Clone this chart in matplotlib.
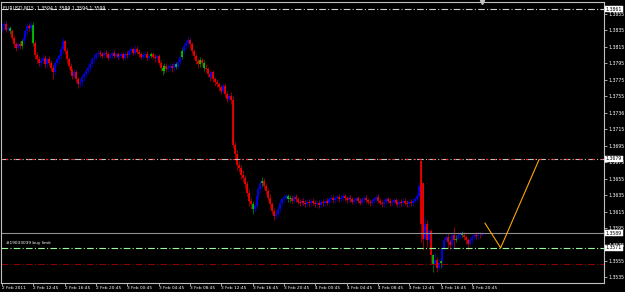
import matplotlib
matplotlib.use("Agg")
import matplotlib.pyplot as plt
import numpy as np

# ---- data (prices in pips above 1.3500) ----
opens = [336,340,343,336,338,334,326,318,314,318,
         316,322,326,334,340, 338,342,320,305,300, 296,298,302,294,300, 296,290,284,296,300,
         304,312,322,310,300, 292,286,280,284,276, 270,272,278,282,286, 290,294,300,302,306,
         308,306,304,308,306,302,305,308,304,306, 303,304,306,302,307, 305,310,312,308,313,
         309,306,303,305,307, 302,304,306,303,301, 304,296,290,286,292, 288,290,292,289,294,
         291,297,303,310,316, 320,324,318,310,304, 298,294,299,296,290, 288,282,279,284,276,
         272,270,266,262,268, 258,252,256,250,196, 185,172,168,160,156, 148,138,128,124,118,
         122,134,142,150,152, 146,140,132,124,116, 110,112,118,126,130, 132,134,130,132,128,
         133,130,127,125,128,126,124,127,125,128, 126,124,126,123,127,125,128,126,130,132,
         129,131,133,130,132,134,131,129,132,130, 127,129,131,128,126,130,132,129,127,125,
         128,130,133,128,126,124,127,130,128,125, 127,129,126,124,127,125,128,126,124,127,
         125,128,130,134,
         176,150,82,100,80,92,62,50,56,46, 52,55,70,80,84,78,74,86,80,82, 86,88,87,84,80,76,80,84,86,85,
         87,86]
closes = [340,343,336,338,334,326,318,314,318,316,
          322,326,334,340,338, 342,320,305,300,296, 298,302,294,300,296, 290,284,296,300,304,
          312,322,310,300,292, 286,280,284,276,270, 272,278,282,286,290, 294,300,302,306,308,
          306,304,308,306,302,305,308,304,306,303, 304,306,302,307,305, 310,312,308,313,309,
          306,303,305,307,302, 304,306,303,301,304, 296,290,286,292,288, 290,292,289,294,291,
          297,303,310,316,320, 324,318,310,304,298, 294,299,296,290,288, 282,279,284,276,272,
          270,266,262,268,258, 252,256,250,196,185, 172,168,160,156,148, 138,128,124,118,122,
          134,142,150,152,146, 140,132,124,116,110, 112,118,126,130,132, 134,130,132,128,133,
          130,127,125,128,126,124,127,125,128,126, 124,126,123,127,125,128,126,130,132,129,
          131,133,130,132,134,131,129,132,130,127, 129,131,128,126,130,132,129,127,125,128,
          130,133,128,126,124,127,130,128,125,127, 129,126,124,127,125,128,126,124,127,125,
          128,130,134,146,
          100,82,100,80,92,62,50,56,46,52, 55,70,80,84,78,74,86,80,82,86, 88,87,84,80,76,80,84,86,85,87,
          86,88]
highs = [344,347,346,341,341,337,329,321,321,322,
         325,330,337,344,344, 346,345,324,309,304, 302,306,305,303,304, 299,293,298,303,307,
         316,327,324,314,303, 295,290,288,287,279, 276,281,285,289,293, 297,303,306,309,311,
         311,309,311,311,309,308,311,311,309,309, 307,309,309,310,310, 313,316,315,317,316,
         312,309,308,310,310, 307,309,309,306,307, 307,299,293,295,295, 294,296,295,298,297,
         300,307,314,320,324, 328,326,321,313,307, 301,303,302,299,294, 291,286,287,287,279,
         276,273,269,271,271, 262,259,260,256,200, 190,176,172,165,160, 152,142,132,128,126,
         137,146,154,157,156, 150,144,136,127,119, 116,122,130,133,136, 137,137,135,135,136,
         136,133,130,131,131,129,130,130,131,131, 129,129,129,130,130,131,131,133,136,135,
         134,137,136,135,138,137,134,135,135,133, 132,134,134,131,133,135,135,132,130,131,
         133,137,136,131,129,130,133,133,131,130, 132,132,129,130,130,131,131,129,130,130,
         131,133,138,150,
         178,150,108,105,94,94,64,66,60,58, 60,72,84,88,89,82,90,96,86,89, 92,91,90,87,83,83,87,89,90,91,
         90,90]
lows = [333,337,333,333,331,323,314,310,311,312,
        312,318,323,330,334, 334,316,300,296,292, 292,294,290,290,292, 286,276,281,292,296,
        300,308,306,296,288, 282,276,277,272,265, 266,268,274,279,282, 286,291,296,299,303,
        303,301,302,303,299,300,302,301,301,300, 300,301,299,299,302, 302,306,305,305,306,
        303,300,300,302,299, 299,301,300,297,298, 293,286,281,283,284, 285,287,285,286,288,
        288,294,300,306,312, 316,314,306,300,294, 290,291,292,286,284, 279,274,276,272,268,
        266,262,258,259,254, 248,249,246,192,178, 166,163,155,151,143, 134,122,118,112,115,
        118,130,138,145,142, 136,128,119,112,105, 106,108,114,122,127, 129,127,127,125,126,
        127,124,122,122,123,121,121,122,122,123, 121,121,120,120,122,122,123,123,127,126,
        126,128,127,127,129,128,126,126,127,124, 124,126,125,123,123,127,126,124,122,122,
        125,127,125,123,121,121,124,125,122,122, 124,123,121,121,122,122,123,121,121,122,
        122,125,127,130,
        78,68,80,72,77,53,42,48,42,44, 47,48,68,78,70,70,70,72,78,80, 83,84,81,76,68,73,77,81,82,82,
        83,85]
green_bars = [4, 10, 16, 76, 82, 83, 89, 92, 101, 103, 128, 133, 146, 147, 220, 224, 232, 235]

x_tick_bars = [0, 16, 32, 48, 64, 80, 96, 112, 128, 144, 160, 176, 192, 208, 224, 240]
x_tick_labels = ["2 Feb 2011", "2 Feb 12:45", "2 Feb 16:45", "2 Feb 20:45",
                 "3 Feb 00:45", "3 Feb 04:45", "3 Feb 08:45", "3 Feb 12:45",
                 "3 Feb 16:45", "3 Feb 20:45", "4 Feb 00:45", "4 Feb 04:45",
                 "4 Feb 08:45", "4 Feb 12:45", "4 Feb 16:45", "4 Feb 20:45"]
y_tick_values = [1.3855, 1.3835, 1.3815, 1.3795, 1.3775, 1.3755, 1.3735, 1.3715,
                 1.3695, 1.3675, 1.3655, 1.3635, 1.3615, 1.3595, 1.3575, 1.3555, 1.3535]
y_tick_labels = ["1.3855", "1.3835", "1.3815", "1.3795", "1.3775", "1.3755", "1.3736", "1.3715",
                 "1.3695", "1.3675", "1.3655", "1.3635", "1.3615", "1.3595", "1.3575", "1.3555", "1.3535"]

level_top = 1.3861
level_mid = 1.3679
level_bid = 1.3589
level_buy = 1.3571
level_low = 1.3551
zigzag_bars = [246.7, 254.7, 274.3]
zigzag_prices = [1.3601, 1.3571, 1.3678]
header = "EURUSD,M15  1.3594 1.3599 1.3594 1.3599"
order_label = "#19033039 buy limit"

# ---- figure ----
W, H = 625, 292
fig = plt.figure(figsize=(W/100, H/100), dpi=100, facecolor="black")
ax = fig.add_axes([1/W, (292-283)/H, 603/W, 281/H])
ax.set_facecolor("black")

base = 1.35
o = base + np.array(opens) / 1e4
c = base + np.array(closes) / 1e4
hi = base + np.array(highs) / 1e4
lo = base + np.array(lows) / 1e4
idx = np.arange(len(o))

up = c >= o
body_col = np.where(up, "#0000ff", "#ff0000").astype(object)
wick_col = np.where(up, "#00008b", "#8b0000").astype(object)
for g in green_bars:
    body_col[g] = "#00cc00"
    wick_col[g] = "#006400"

ax.vlines(idx, lo, hi, colors=list(wick_col), linewidth=0.75)
bot = np.minimum(o, c)
top = np.maximum(o, c)
top = np.where(top - bot < 0.00008, bot + 0.00008, top)
ax.vlines(idx, bot, top, colors=list(body_col), linewidth=1.2)

# horizontal levels
ax.axhline(level_top, color="#d0d0d0", lw=0.8, dashes=(6, 2, 1, 2))
ax.axhline(level_mid, color="#c0c0c0", lw=0.8, dashes=(6, 2, 1, 2))
ax.axhline(level_mid, color="#ff2020", lw=0.8, dashes=(1, 3, 2, 6))
ax.axhline(level_bid, color="#909090", lw=0.8)
ax.axhline(level_buy, color="#98fb98", lw=0.8, dashes=(6, 2, 1, 2))
ax.axhline(level_low, color="#8b0000", lw=0.8, dashes=(6, 2, 1, 2))

ax.plot(zigzag_bars, zigzag_prices, color="#ffa500", lw=0.8)

ax.set_xlim(-0.51, 307.5)
ax.set_ylim(1.35283, 1.38696)

for s in ax.spines.values():
    s.set_color("#c0c0c0")
    s.set_linewidth(0.8)

ax.yaxis.tick_right()
ax.set_yticks(y_tick_values)
ax.set_yticklabels(y_tick_labels)
ax.set_xticks(x_tick_bars)
ax.set_xticklabels(x_tick_labels, ha="left")
ax.tick_params(axis="y", colors="#c0c0c0", labelcolor="white", labelsize=3.3,
               length=2, width=0.6, pad=1.5)
ax.tick_params(axis="x", colors="#c0c0c0", labelcolor="white", labelsize=3.1,
               length=2, width=0.6, pad=0.5)

# price boxes on the right axis
for lv in [level_top, level_mid, level_bid, level_buy]:
    ax.text(1.003, lv, f"{lv:.4f}", transform=ax.get_yaxis_transform(),
            fontsize=3.3, color="black", va="center", ha="left",
            bbox=dict(boxstyle="square,pad=0.15", fc="white", ec="white", lw=0.3),
            clip_on=False, zorder=10)

ax.text(0.004, 0.985, header, transform=ax.transAxes, fontsize=3.3, color="white",
        ha="left", va="top")
ax.text(2, level_buy + 0.0003, order_label, fontsize=3.1, color="white",
        ha="left", va="bottom")
ax.plot([245], [1], transform=ax.get_xaxis_transform(), marker="v", ms=3,
        color="#c0c0c0", clip_on=False)

fig.savefig("out.png", dpi=100, facecolor="black")
